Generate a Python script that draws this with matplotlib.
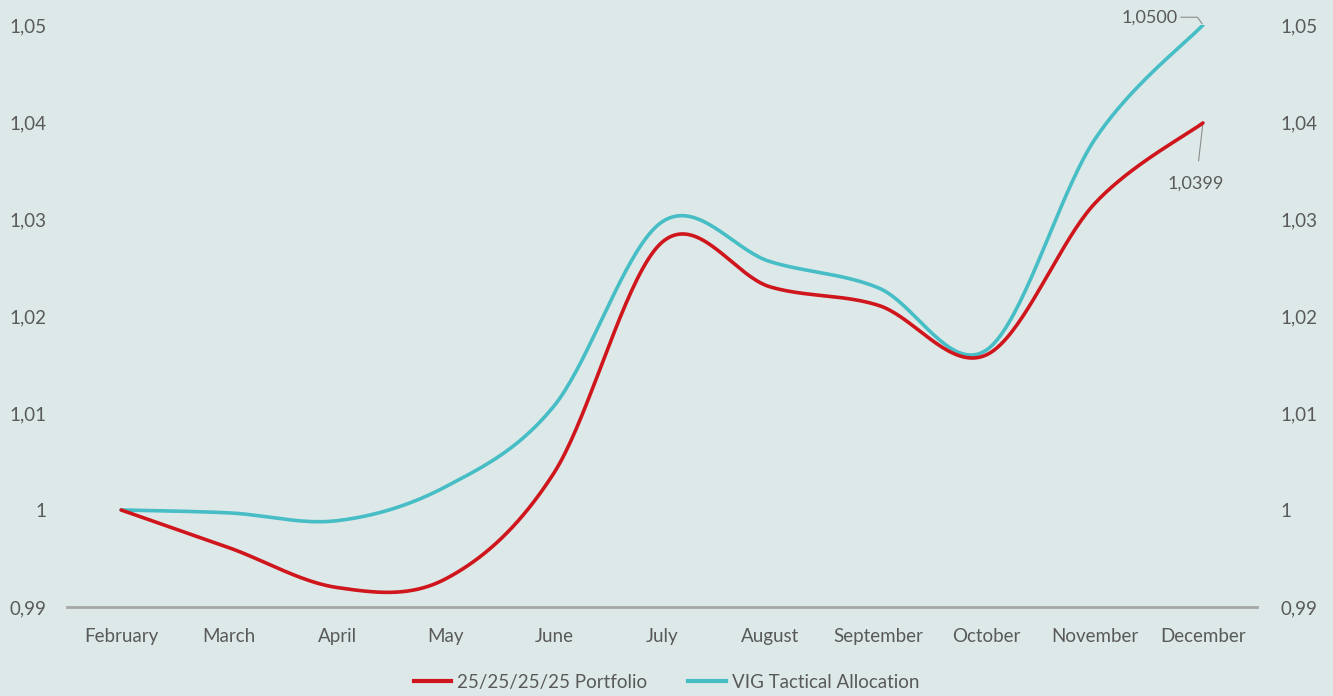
import numpy as np
import matplotlib.pyplot as plt
from matplotlib.lines import Line2D

# chart data
months = ["February", "March", "April", "May", "June", "July",
          "August", "September", "October", "November", "December"]
portfolio = [1.0000, 0.9961, 0.9920, 0.9929, 1.0038, 1.0276,
             1.0230, 1.0211, 1.0160, 1.0316, 1.0399]
tactical = [1.0000, 0.9997, 0.9989, 1.0024, 1.0107, 1.0297,
            1.0256, 1.0229, 1.0165, 1.0382, 1.0500]
y_ticks = [0.99, 1.00, 1.01, 1.02, 1.03, 1.04, 1.05]
y_labels = ["0,99", "1", "1,01", "1,02", "1,03", "1,04", "1,05"]

BG = "#dde9e9"
RED = "#cf161c"
CYAN = "#47bdc5"
TXT = "#595959"
FONT = "Lato"
FS = 13.5


def smooth(xs, ys, n=40):
    """excel-like smoothed line (catmull-rom bezier)"""
    p = np.column_stack([xs, ys]).astype(float)
    pts = np.vstack([p[0], p, p[-1]])
    out = []
    t = np.linspace(0, 1, n)[:, None]
    for i in range(1, len(pts) - 2):
        p0, p1, p2, p3 = pts[i - 1], pts[i], pts[i + 1], pts[i + 2]
        c1 = p1 + (p2 - p0) / 6
        c2 = p2 - (p3 - p1) / 6
        seg = ((1 - t) ** 3) * p1 + 3 * ((1 - t) ** 2) * t * c1 + 3 * (1 - t) * t ** 2 * c2 + t ** 3 * p2
        out.append(seg if i == 1 else seg[1:])
    out = np.vstack(out)
    return out[:, 0], out[:, 1]


fig = plt.figure(figsize=(13.33, 6.96), dpi=100, facecolor=BG)
ax = fig.add_axes([0.0503, 0.1279, 0.8927, 0.8362], facecolor=BG)

x = np.arange(len(months))
sx, sy = smooth(x, tactical)
ax.plot(sx, sy, color=CYAN, lw=2.6, solid_capstyle="round", zorder=3)
sx, sy = smooth(x, portfolio)
ax.plot(sx, sy, color=RED, lw=2.6, solid_capstyle="round", zorder=4)

ax.set_xlim(-0.5, len(months) - 0.5)
ax.set_ylim(0.99, 1.05)
ax.set_xticks(x)
ax.set_xticklabels(months, fontsize=FS, color=TXT, family=FONT)
ax.set_yticks(y_ticks)
ax.set_yticklabels(y_labels, fontsize=FS, color=TXT, family=FONT)
ax.tick_params(length=0, pad=15)
ax.tick_params(axis="x", pad=15)
for s in ["top", "left", "right"]:
    ax.spines[s].set_visible(False)
ax.spines["bottom"].set_color("#a6a6a6")
ax.spines["bottom"].set_linewidth(2)

ax2 = ax.twinx()
ax2.set_ylim(0.99, 1.05)
ax2.set_yticks(y_ticks)
ax2.set_yticklabels(y_labels, fontsize=FS, color=TXT, family=FONT)
ax2.tick_params(length=0, pad=17)
for s in ax2.spines.values():
    s.set_visible(False)

# end labels
last = len(months) - 1
ax.annotate("1,0500", xy=(last, tactical[-1]), xytext=(last - 0.49, 1.0508),
            fontsize=FS - 0.5, color=TXT, family=FONT, ha="center", va="center",
            arrowprops=dict(arrowstyle="-", color="#8c8c8c", lw=0.8,
                            connectionstyle="angle,angleA=0,angleB=125,rad=0", shrinkA=30, shrinkB=1))
ax.annotate("1,0399", xy=(last, portfolio[-1]), xytext=(last - 0.065, 1.0336),
            fontsize=FS - 0.5, color=TXT, family=FONT, ha="center", va="center",
            arrowprops=dict(arrowstyle="-", color="#8c8c8c", lw=0.8, shrinkA=9, shrinkB=1))

handles = [Line2D([], [], color=RED, lw=3), Line2D([], [], color=CYAN, lw=3)]
fig.legend(handles, ["25/25/25/25 Portfolio", "VIG Tactical Allocation"],
           loc="center", bbox_to_anchor=(0.5, 0.02), ncol=2, frameon=False,
           prop={"family": FONT, "size": FS}, labelcolor=TXT,
           handlelength=2.0, handletextpad=0.3, columnspacing=2.2)

fig.savefig("out.png", dpi=100, facecolor=BG)
